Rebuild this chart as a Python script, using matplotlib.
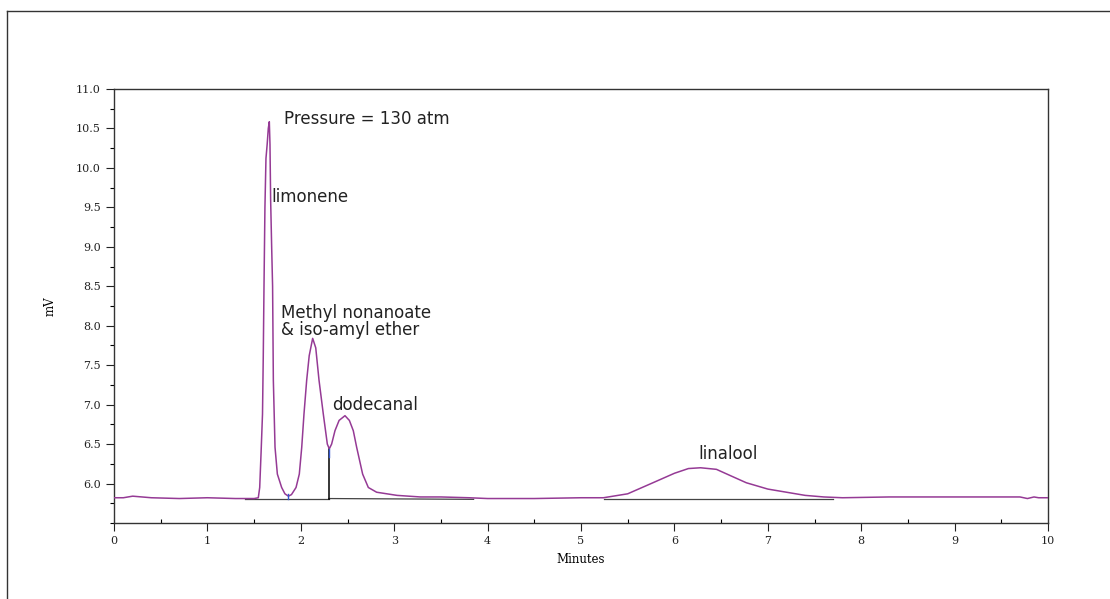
import matplotlib
matplotlib.use("Agg")
import matplotlib.pyplot as plt
from matplotlib.lines import Line2D
from matplotlib.ticker import MultipleLocator, FormatStrFormatter

# Chromatogram trace (minutes, mV)
time_min = [0.0, 0.1, 0.2, 0.3, 0.4, 0.7, 1.0, 1.3, 1.50, 1.545, 1.56, 1.575, 1.59, 1.598,
            1.606, 1.616, 1.627, 1.640, 1.652, 1.663, 1.670, 1.677, 1.688, 1.698, 1.706,
            1.724, 1.749, 1.795, 1.83, 1.867, 1.90, 1.949, 1.984, 2.01, 2.034, 2.063, 2.09,
            2.127, 2.16, 2.195, 2.241, 2.284, 2.305, 2.33, 2.366, 2.41, 2.473, 2.52, 2.562,
            2.598, 2.662, 2.723, 2.812, 3.03, 3.28, 3.5, 3.8, 4.0, 4.5, 5.0, 5.24,
            5.5, 5.77, 6.0, 6.15, 6.28, 6.45, 6.6, 6.77, 7.0, 7.2, 7.4, 7.6, 7.8, 8.3,
            9.0, 9.7, 9.78, 9.85, 9.9, 10.0]
signal_mv = [5.82, 5.82, 5.84, 5.83, 5.82, 5.81, 5.82, 5.81, 5.81, 5.82, 5.95, 6.4, 6.88, 7.6,
             8.5, 9.5, 10.12, 10.3, 10.5, 10.585, 10.3, 9.6, 9.0, 8.5, 7.31,
             6.46, 6.12, 5.95, 5.87, 5.84, 5.86, 5.95, 6.12, 6.46, 6.88, 7.31, 7.62,
             7.84, 7.72, 7.31, 6.88, 6.50, 6.44, 6.5, 6.67, 6.8, 6.86, 6.8, 6.67,
             6.46, 6.12, 5.95, 5.89, 5.85, 5.83, 5.83, 5.82, 5.81, 5.81, 5.82, 5.82,
             5.87, 6.01, 6.13, 6.19, 6.20, 6.18, 6.10, 6.01, 5.93, 5.89, 5.85, 5.83, 5.82, 5.83,
             5.83, 5.83, 5.81, 5.83, 5.82, 5.82]

# Integration baselines (x0, x1, y0, y1) and drop line (x, y0, y1)
baseline_segments = [(1.40, 2.30, 5.81, 5.81), (2.30, 3.85, 5.81, 5.80), (5.25, 7.7, 5.81, 5.81)]
drop_line = (2.305, 5.81, 6.44)
# peak start/end markers (x, y0, y1)
markers = [(1.867, 5.80, 5.87), (2.305, 6.34, 6.44)]

# Peak labels: (text, x, y)
labels = [("Pressure = 130 atm", 1.82, 10.62),
          ("limonene", 1.69, 9.63),
          ("Methyl nonanoate\n& iso-amyl ether", 1.79, 8.05),
          ("dodecanal", 2.34, 7.0),
          ("linalool", 6.26, 6.38)]

fig = plt.figure(figsize=(11.10, 5.99), dpi=100)
ax = fig.add_axes([114/1110, 1-523/599, (1048-114)/1110, (523-89)/599])

trace_color = "#953a95"
ax.plot(time_min, signal_mv, color=trace_color, lw=1.1, zorder=3)
for x0, x1, y0, y1 in baseline_segments:
    ax.plot([x0, x1], [y0, y1], color="#444444", lw=0.9, zorder=1)
ax.plot([drop_line[0], drop_line[0]], [drop_line[1], drop_line[2]], color="black", lw=1.1, zorder=2)
for x, y0, y1 in markers:
    ax.plot([x, x], [y0, y1], color="#3355cc", lw=1.0, zorder=4)

for txt, x, y in labels:
    ax.text(x, y, txt, fontsize=12, family="DejaVu Sans", color="#222222",
            ha="left", va="center", linespacing=0.95)

ax.set_xlim(0, 10)
ax.set_ylim(5.5, 11.0)
ax.xaxis.set_major_locator(MultipleLocator(1))
ax.xaxis.set_minor_locator(MultipleLocator(0.5))
ax.yaxis.set_minor_locator(MultipleLocator(0.25))
ax.yaxis.set_major_formatter(FormatStrFormatter("%.1f"))
ax.set_yticks([6.0 + 0.5*i for i in range(11)])
ax.tick_params(axis="both", which="major", direction="out", length=6, width=0.8,
               labelsize=8, colors="#222222")
ax.tick_params(axis="x", which="minor", direction="in", length=3, width=0.8)
ax.tick_params(axis="y", which="minor", direction="out", length=3, width=0.8)
for lab in ax.get_xticklabels() + ax.get_yticklabels():
    lab.set_family("DejaVu Serif")
for sp in ax.spines.values():
    sp.set_color("#333333")
    sp.set_linewidth(1.0)

ax.set_xlabel("Minutes", family="DejaVu Serif", fontsize=8.5, labelpad=5)
ax.set_ylabel("mV", family="DejaVu Serif", fontsize=8.5, labelpad=14)

# figure frame (left and top edges)
fig.add_artist(Line2D([7/1110, 7/1110], [0, 1-11/599], transform=fig.transFigure,
                      color="#333333", lw=1.0))
fig.add_artist(Line2D([7/1110, 1], [1-11/599, 1-11/599], transform=fig.transFigure,
                      color="#333333", lw=1.0))

fig.savefig("out.png", dpi=100)
